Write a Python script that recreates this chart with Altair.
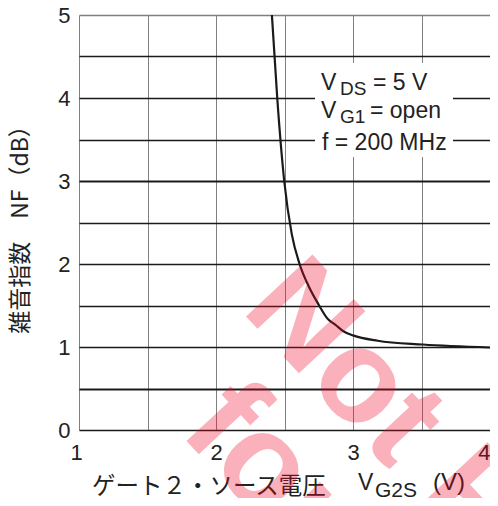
import altair as alt
import pandas as pd

# Curve: noise figure vs gate-2 voltage
vg2s = [2.408, 2.447, 2.498, 2.553, 2.61, 2.68, 2.746, 2.82, 2.87, 2.93, 3.0, 3.18, 3.51, 4.0]
nf_db = [5.0, 4.0, 3.0, 2.36, 2.0, 1.72, 1.52, 1.33, 1.27, 1.19, 1.14, 1.075, 1.03, 0.994]

x_ticks = [1, 1.5, 2, 2.5, 3, 3.5, 4]
y_ticks = [0, 0.5, 1, 1.5, 2, 2.5, 3, 3.5, 4, 4.5, 5]

wm_text = ["Not Recommended", "for New Design"]
wm_x = [2.175, 1.723]
wm_y = [1.446, -0.024]

LAT = "Liberation Sans"
CJK = "Noto Sans CJK JP"
INK = "#1a1a1a"

df = pd.DataFrame({"x": vg2s, "y": nf_db})
one = pd.DataFrame({"k": [0]})

xscale = alt.Scale(domain=[1, 4], nice=False, zero=False)
yscale = alt.Scale(domain=[0, 5], nice=False, zero=False)

xaxis = alt.Axis(
    values=x_ticks, grid=True, gridColor="#808080", gridWidth=1,
    ticks=False, domain=False, title=None,
    labelExpr="datum.value % 1 == 0 ? format(datum.value, 'd') : ''",
    labelFont=LAT, labelFontSize=22, labelColor="#222222", labelPadding=12,
    labelOffset={"expr": "datum.value == 1 ? -9 : 0"},
)
yaxis = alt.Axis(
    values=y_ticks, grid=True,
    gridColor={"expr": "datum.value == 5 ? '#808080' : '#1a1a1a'"},
    gridWidth={"expr": "(datum.value == 0.5 || datum.value == 3) ? 2 : 1.3"},
    ticks=False, domain=False, title=None,
    labelExpr="datum.value % 1 == 0 ? format(datum.value, 'd') : ''",
    labelFont=LAT, labelFontSize=22, labelColor="#222222", labelPadding=9,
)

curve = alt.Chart(df).mark_line(color=INK, strokeWidth=2.2, interpolate="monotone").encode(
    x=alt.X("x:Q", scale=xscale, axis=xaxis),
    y=alt.Y("y:Q", scale=yscale, axis=yaxis),
)

def label(text, x, y, size, font=LAT, align="left", baseline="alphabetic", angle=0):
    kw = dict(text=text, font=font, fontSize=size, color="#222222", align=align, baseline=baseline)
    if angle:
        kw["angle"] = angle
    return alt.Chart(one).mark_text(**kw).encode(x=alt.value(x), y=alt.value(y))

box = alt.Chart(one).mark_rect(color="white").encode(
    x=alt.value(236), x2=alt.value(374), y=alt.value(48), y2=alt.value(142)
)

annots = [
    label("V", 242, 75, 23),
    label("DS", 261, 80, 19),
    label("= 5 V", 294, 75, 23),
    label("V", 242, 103, 23),
    label("G1", 261, 108, 19),
    label("= open", 291, 103, 23),
    label("f = 200 MHz", 243, 135, 23),
]

titles = [
    label("雑音指数　NF（dB）", -58, 209, 23, font=CJK, align="center", baseline="middle", angle=270),
    label("ゲート２・ソース電圧", 13, 472, 23.5, font=CJK, baseline="middle"),
    label("V", 279, 475, 23),
    label("G2S", 296, 482, 21),
    label("(V)", 354, 475, 24),
]

wm = alt.Chart(pd.DataFrame({"t": wm_text, "x": wm_x, "y": wm_y})).mark_text(
    font=LAT, fontSize=132, fontWeight="bold", color="#f00020", opacity=0.3,
    angle=47, align="left", baseline="alphabetic"
).encode(x=alt.X("x:Q", scale=xscale), y=alt.Y("y:Q", scale=yscale), text="t:N")

chart = alt.layer(curve, box, *annots, *titles, wm).properties(
    width=411, height=415,
    autosize=alt.AutoSizeParams(type="none"),
    padding={"left": 71, "top": 7, "right": 0, "bottom": 68},
    background="white",
).configure_view(stroke=None)

chart.save("out.html", embed_options={"renderer": "svg", "actions": False})
